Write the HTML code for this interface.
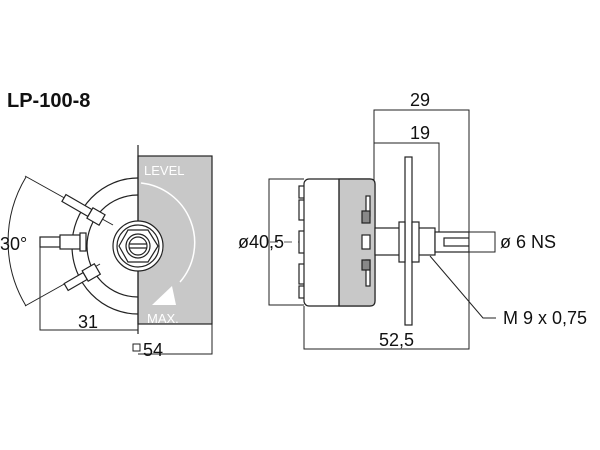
<!DOCTYPE html>
<html><head><style>
body{margin:0;background:#fff;}
svg{display:block;font-family:"Liberation Sans",sans-serif;}
</style></head><body>
<svg width="600" height="450" viewBox="0 0 600 450" xmlns="http://www.w3.org/2000/svg">
<text x="7" y="107" font-size="20" font-weight="bold" fill="#111">LP-100-8</text>

<!-- LEFT VIEW -->
<g stroke="#222" fill="none" stroke-width="1.2">
  <path d="M138 178 A66 68 0 0 0 138 314"/>
  <path d="M138 195 A51 51 0 0 0 138 297"/>
  <path d="M26 177 A125 125 0 0 0 26 306" stroke-width="1"/>
  <line x1="25" y1="176" x2="113" y2="225" stroke-width="1"/>
  <line x1="25" y1="306" x2="100" y2="264" stroke-width="1"/>
  <g transform="translate(83,209) rotate(30)">
    <rect x="-22" y="-4" width="30" height="8" fill="#fff"/>
    <rect x="8" y="-6" width="14" height="12" fill="#fff"/>
  </g>
  <rect x="40" y="237" width="20" height="10" fill="#fff"/>
  <rect x="60" y="235" width="20" height="14" fill="#fff"/>
  <rect x="80" y="233" width="6" height="18" fill="#fff"/>
  <g transform="translate(80,279) rotate(-30)">
    <rect x="-16" y="-4" width="22" height="8" fill="#fff"/>
    <rect x="6" y="-6" width="14" height="12" fill="#fff"/>
  </g>
  <polyline points="40,241 40,330 138,330" stroke-width="1"/>
</g>
<rect x="138" y="156" width="74" height="168" fill="#c8c8c8" stroke="#222" stroke-width="1.2"/>
<line x1="138" y1="145" x2="138" y2="334" stroke="#222" stroke-width="1.2"/>
<polyline points="212,324 212,354 138,354" stroke="#222" fill="none" stroke-width="1"/>
<text x="144" y="175" font-size="13" fill="#fff">LEVEL</text>
<path d="M141 183 A60 60 0 0 1 180 282" stroke="#fff" fill="none" stroke-width="1.5"/>
<polygon points="152,305 176,305 172,286" fill="#fff"/>
<text x="147" y="323" font-size="13" fill="#fff">MAX.</text>
<g stroke="#222" fill="none" stroke-width="1.2">
  <circle cx="138" cy="246" r="25" fill="#fff"/>
  <circle cx="138" cy="246" r="21"/>
  <polygon points="119,246 128,230 148,230 158,246 148,262 128,262" fill="#fff"/>
  <circle cx="138" cy="246" r="12"/>
  <circle cx="138" cy="246" r="9"/>
  <line x1="129" y1="244" x2="147" y2="244"/>
  <line x1="129" y1="248" x2="147" y2="248"/>
</g>
<text x="0" y="250" font-size="18" fill="#111">30°</text>
<text x="78" y="328" font-size="18" fill="#111">31</text>
<rect x="133" y="344" width="7" height="7" fill="none" stroke="#222" stroke-width="1"/>
<text x="143" y="356" font-size="18" fill="#111">54</text>

<!-- RIGHT VIEW -->
<g stroke="#222" fill="none" stroke-width="1">
  <polyline points="374,180 374,110 469,110 469,349 304,349 304,306"/>
  <polyline points="374,143 439,143 439,232"/>
  <polyline points="304,179 269,179 269,305 304,305"/>
  <line x1="270" y1="242" x2="470" y2="242" stroke-dasharray="8,6" stroke-width="0.8"/>
  <polyline points="430,256 483,318 496,318"/>
</g>
<g stroke="#222" stroke-width="1.2">
  <rect x="299" y="186" width="6" height="12" fill="#fff"/>
  <rect x="299" y="200" width="6" height="20" fill="#fff"/>
  <rect x="299" y="231" width="6" height="22" fill="#fff"/>
  <rect x="299" y="264" width="6" height="20" fill="#fff"/>
  <rect x="299" y="286" width="6" height="12" fill="#fff"/>
  <rect x="304" y="179" width="71" height="127" rx="5" fill="#fff"/>
  <path d="M339 179 H370 Q375 179 375 184 V301 Q375 306 370 306 H339 Z" fill="#c8c8c8"/>
  <line x1="339" y1="179" x2="339" y2="306"/>
  <rect x="366" y="196" width="4" height="20" fill="#fff"/>
  <rect x="362" y="211" width="8" height="12" fill="#888"/>
  <rect x="362" y="235" width="8" height="14" fill="#fff"/>
  <rect x="366" y="260" width="4" height="26" fill="#fff"/>
  <rect x="362" y="260" width="8" height="10" fill="#888"/>
  <rect x="375" y="228" width="60" height="27" fill="#fff"/>
  <rect x="405" y="157" width="7" height="168" fill="#fff"/>
  <rect x="399" y="222" width="6" height="40" fill="#fff"/>
  <rect x="412" y="222" width="7" height="40" fill="#fff"/>
  <rect x="435" y="232" width="34" height="20" fill="#fff"/>
  <rect x="444" y="238" width="25" height="8" fill="#fff"/>
  <rect x="469" y="232" width="26" height="20" fill="#fff" stroke-width="1"/>
</g>
<text x="420" y="106" font-size="18" fill="#111" text-anchor="middle">29</text>
<text x="420" y="139" font-size="18" fill="#111" text-anchor="middle">19</text>
<text x="238" y="248" font-size="18" fill="#111">ø40,5</text>
<text x="500" y="248" font-size="18" fill="#111">ø 6 NS</text>
<text x="503" y="324" font-size="18" fill="#111">M 9 x 0,75</text>
<text x="379" y="346" font-size="18" fill="#111">52,5</text>
</svg>
</body></html>
